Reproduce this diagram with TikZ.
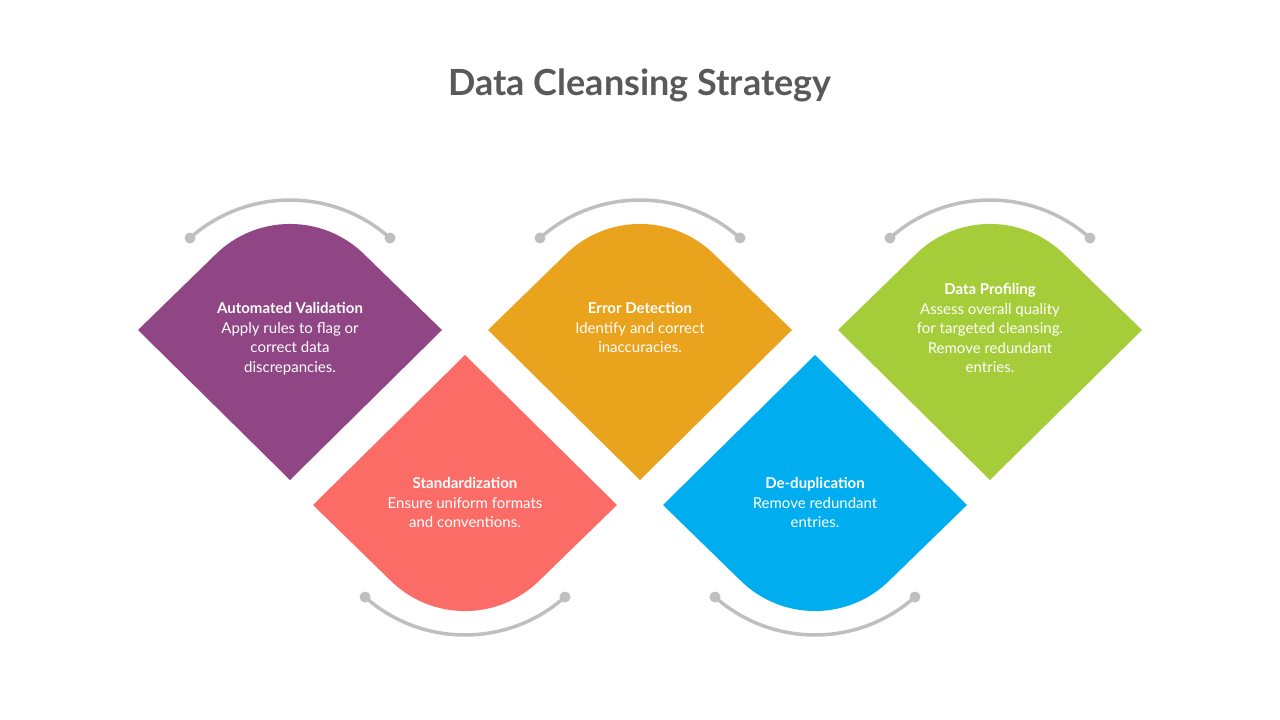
\documentclass[tikz,border=0pt]{standalone}
\usepackage{fontspec}
\setmainfont{Lato}
\definecolor{cpurple}{HTML}{904584}
\definecolor{corange}{HTML}{E9A31D}
\definecolor{cgreen}{HTML}{A4CD39}
\definecolor{ccoral}{HTML}{FC6C67}
\definecolor{cblue}{HTML}{00AEEF}
\definecolor{cgray}{HTML}{BFBFBF}
\definecolor{ctitle}{HTML}{595959}
\tikzset{
  txt/.style={text=white,align=center,font=\fontsize{15}{19.5}\selectfont},
  arcline/.style={draw=cgray,line width=3.5pt},
  dotc/.style={fill=cgray}
}
\newcommand{\topshape}[3]{%
  \fill[#3] (#1-152,#2) -- (#1-75,#2-75) arc[start angle=-135,end angle=-45,radius=106] -- (#1+152,#2) -- (#1,#2+150) -- cycle;
  \draw[arcline] (#1-100,#2-92) arc[start angle=-131.6,end angle=-48.4,radius=150.6];
  \fill[dotc] (#1-100,#2-92) circle[radius=5.5];
  \fill[dotc] (#1+100,#2-92) circle[radius=5.5];}
\newcommand{\botshape}[3]{%
  \fill[#3] (#1-152,#2) -- (#1-75,#2+75) arc[start angle=135,end angle=45,radius=106] -- (#1+152,#2) -- (#1,#2-150) -- cycle;
  \draw[arcline] (#1-100,#2+92) arc[start angle=131.6,end angle=48.4,radius=150.6];
  \fill[dotc] (#1-100,#2+92) circle[radius=5.5];
  \fill[dotc] (#1+100,#2+92) circle[radius=5.5];}
\begin{document}
\begin{tikzpicture}[x=1pt,y=-1pt]
\useasboundingbox (0,0) rectangle (1280,720);
\node[font=\fontsize{36}{40}\selectfont\bfseries,text=ctitle] (title) at (640,85) {Data Cleansing Strategy};
\topshape{290}{330}{cpurple}
\topshape{640}{330}{corange}
\topshape{990}{330}{cgreen}
\botshape{465}{505}{ccoral}
\botshape{815}{505}{cblue}
\node[txt,anchor=north] (t1) at (290,299) {\textbf{Automated Validation}\\Apply rules to flag or\\correct data\\discrepancies.};
\node[txt,anchor=north] (t2) at (640,299) {\textbf{Error Detection}\\Identify and correct\\inaccuracies.};
\node[txt,anchor=north] (t3) at (990,280) {\textbf{Data Profiling}\\Assess overall quality\\for targeted cleansing.\\Remove redundant\\entries.};
\node[txt,anchor=north] (t4) at (465,474) {\textbf{Standardization}\\Ensure uniform formats\\and conventions.};
\node[txt,anchor=north] (t5) at (815,474) {\textbf{De-duplication}\\Remove redundant\\entries.};
\end{tikzpicture}
\end{document}
